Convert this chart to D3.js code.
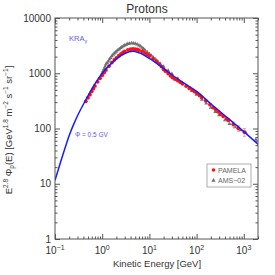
<!DOCTYPE html>
<html><head><meta charset="utf-8">
<script src="https://cdn.jsdelivr.net/npm/d3@7"></script>
<style>
body{margin:0;background:#fff;}
text{font-family:"Liberation Sans",Arial,Helvetica,sans-serif;}
</style></head>
<body><svg id="c" width="275" height="275"></svg>
<script>
// ---- data ----
const modelE   = [0.1,0.13,0.16,0.2,0.25,0.3,0.45,0.7,1,1.5,2,3,4.5,6,7,10,20,30,50,100,200,500,1000,2000];
const modelV   = [11.5,24,42,75,120,170,330,640,1000,1450,1820,2280,2500,2350,2230,1850,1220,940,690,470,280,145,88,52];
const pamelaE  = [0.45,0.5,0.55,0.6,0.65,0.7,0.8,0.9,1.0,1.1,1.2,1.4,1.6,1.8,2,2.25,2.5,2.75,3,3.5,4,4.5,5,5.5,6,7,8,9,10,12,14,16,18,20,22,25,28,31,35,40,45,50,60,70,80,90,100,115,128,156,192,226,254,288,324,368,434,470,599,764,1025];
const pamelaV  = [310,360,410,470,530,590,700,810,920,1030,1140,1350,1560,1740,1900,2080,2250,2380,2490,2640,2730,2750,2730,2690,2620,2480,2330,2190,2050,1830,1640,1480,1320,1180,1090,990,900,835,780,735,690,645,585,535,495,465,440,400,365,318,270,238,220,200,182,166,150,141,119,101,86];
const pamelaErr= [0,0,0,0,0,0,0,0,0,0,0,0,0,0,0,0,0,0,0,0,0,0,0,0,0,0,0,0,0,0,0,0,0,0,0,0,0,0,0,0,0,0,0,0,0,0,0,0,0,0,0,0,0,0,0,0,10,10,12,12,14];
const amsE     = [1.0,1.05,1.1,1.15,1.2,1.27,1.35,1.42,1.5,1.6,1.7,1.8,1.9,2,2.15,2.3,2.45,2.6,2.8,3,3.25,3.5,3.8,4.2,4.6,5,5.5,6,6.5,7,7.5,8,9,10,11,12,13.5,15,17,20,25,30,40,50,60,80,100,130,160,200,250,300,400,500,650,850,1100,1800];
const amsV     = [1000,1100,1200,1320,1450,1550,1650,1780,1900,2040,2180,2300,2400,2480,2620,2750,2870,2980,3100,3200,3310,3400,3460,3500,3490,3450,3340,3200,3060,2900,2760,2620,2420,2250,2090,1950,1780,1640,1480,1320,1120,980,800,670,590,480,410,335,285,240,200,175,142,122,106,94,84,63];
const xMajor   = [0.1,1,10,100,1000];
const xExp     = ["−1","0","1","2","3"];
const yMajor   = [1,10,100,1000,10000];
const yLabels  = ["1","10","100","1000","10000"];

// ---- layout ----
const svg = d3.select("#c");
const L=55,R=258,T=18,B=239;
const x = d3.scaleLog().domain([0.1,2000]).range([L,R]);
const y = d3.scaleLog().domain([1,10000]).range([B,T]);
const axisCol="#555";

function minors(lo,hi){const m=[];for(let d=lo;d<hi;d*=10){for(let k=2;k<=9;k++){const v=d*k;if(v<=hi*1.0001)m.push(v);}}return m;}
const xMin = minors(0.1,2000).filter(v=>v<=2000);
const yMin = minors(1,10000);

const gAx = svg.append("g");
function addAxis(axis, tr){
  const g=gAx.append("g").attr("transform",tr).call(axis);
  g.select(".domain").remove();
  g.selectAll("line").attr("stroke",axisCol).attr("stroke-width",1);
  g.selectAll("text").remove();
}
addAxis(d3.axisBottom(x).tickValues(xMajor).tickSize(-5).tickFormat(""),`translate(0,${B})`);
addAxis(d3.axisBottom(x).tickValues(xMin).tickSize(-2.5).tickFormat(""),`translate(0,${B})`);
addAxis(d3.axisTop(x).tickValues(xMajor).tickSize(-5).tickFormat(""),`translate(0,${T})`);
addAxis(d3.axisTop(x).tickValues(xMin).tickSize(-2.5).tickFormat(""),`translate(0,${T})`);
addAxis(d3.axisLeft(y).tickValues(yMajor).tickSize(-5).tickFormat(""),`translate(${L},0)`);
addAxis(d3.axisLeft(y).tickValues(yMin).tickSize(-2.5).tickFormat(""),`translate(${L},0)`);
addAxis(d3.axisRight(y).tickValues(yMajor).tickSize(-5).tickFormat(""),`translate(${R},0)`);
addAxis(d3.axisRight(y).tickValues(yMin).tickSize(-2.5).tickFormat(""),`translate(${R},0)`);

// clip
svg.append("clipPath").attr("id","clip").append("rect").attr("x",L).attr("y",T).attr("width",R-L).attr("height",B-T);
const plot = svg.append("g").attr("clip-path","url(#clip)");

// AMS-02 triangles
const tri = d3.symbol().type(d3.symbolTriangle).size(7);
plot.selectAll(".ams").data(amsE.map((e,i)=>[e,amsV[i]])).join("path")
  .attr("d",tri).attr("transform",d=>`translate(${x(d[0])},${y(d[1])})`).attr("fill","#707070");

// PAMELA error bars
const pam = pamelaE.map((e,i)=>({e,v:pamelaV[i],err:pamelaErr[i]}));
const withErr = pam.filter(d=>d.err>0);
plot.selectAll(".eb").data(withErr).join("line")
  .attr("x1",d=>x(d.e)).attr("x2",d=>x(d.e))
  .attr("y1",d=>y(d.v+d.err)).attr("y2",d=>y(Math.max(1,d.v-d.err)))
  .attr("stroke","#f5a0a0").attr("stroke-width",1);
plot.selectAll(".ebc").data(withErr).join("line")
  .attr("x1",d=>x(d.e)-1.5).attr("x2",d=>x(d.e)+1.5)
  .attr("y1",d=>y(d.v+d.err)).attr("y2",d=>y(d.v+d.err))
  .attr("stroke","#f5a0a0").attr("stroke-width",1);
plot.selectAll(".ebc2").data(withErr).join("line")
  .attr("x1",d=>x(d.e)-1.5).attr("x2",d=>x(d.e)+1.5)
  .attr("y1",d=>y(d.v-d.err)).attr("y2",d=>y(d.v-d.err))
  .attr("stroke","#f5a0a0").attr("stroke-width",1);
// PAMELA dots
plot.selectAll(".pam").data(pam).join("circle")
  .attr("cx",d=>x(d.e)).attr("cy",d=>y(d.v)).attr("r",1.9).attr("fill","#ff1010");

// model line
const line = d3.line().x(d=>x(d[0])).y(d=>y(d[1])).curve(d3.curveMonotoneX);
plot.append("path").datum(modelE.map((e,i)=>[e,modelV[i]]))
  .attr("d",line).attr("fill","none").attr("stroke","#1a1aff").attr("stroke-width",1.5);

// frame
svg.append("rect").attr("x",L).attr("y",T).attr("width",R-L).attr("height",B-T)
  .attr("fill","none").attr("stroke",axisCol).attr("stroke-width",1);

// y tick labels
svg.selectAll(".yl").data(yMajor).join("text")
  .attr("x",L-4).attr("y",d=>y(d)+3.5).attr("text-anchor","end")
  .attr("font-size",10).attr("fill","#333").text((d,i)=>yLabels[i]);

// x tick labels
xMajor.forEach((v,i)=>{
  const t=svg.append("text").attr("x",x(v)).attr("y",254).attr("text-anchor","middle")
    .attr("font-size",10).attr("fill","#333");
  t.append("tspan").text("10");
  t.append("tspan").attr("dy",-4).attr("font-size",7).text(xExp[i]);
});

// title
svg.append("text").attr("x",147).attr("y",13).attr("text-anchor","middle")
  .attr("font-size",12).attr("fill","#333").text("Protons");
// x label
svg.append("text").attr("x",157).attr("y",267).attr("text-anchor","middle")
  .attr("font-size",9.5).attr("fill","#333").text("Kinetic Energy [GeV]");
// y label
const yl=svg.append("text").attr("transform","translate(12,130) rotate(-90)")
  .attr("text-anchor","middle").attr("font-size",9.5).attr("fill","#333");
yl.append("tspan").text("E");
yl.append("tspan").attr("dy",-4).attr("font-size",6.5).text("2.8");
yl.append("tspan").attr("dy",4).text("  Φ");
yl.append("tspan").attr("dy",2).attr("font-size",6.5).text("p");
yl.append("tspan").attr("dy",-2).text("(E)  [GeV");
yl.append("tspan").attr("dy",-4).attr("font-size",6.5).text("1.8");
yl.append("tspan").attr("dy",4).text("  m");
yl.append("tspan").attr("dy",-4).attr("font-size",6.5).text("−2");
yl.append("tspan").attr("dy",4).text("  s");
yl.append("tspan").attr("dy",-4).attr("font-size",6.5).text("−1");
yl.append("tspan").attr("dy",4).text("  sr");
yl.append("tspan").attr("dy",-4).attr("font-size",6.5).text("−1");
yl.append("tspan").attr("dy",4).text("]");

// annotations
const kra=svg.append("text").attr("x",69).attr("y",41).attr("font-size",7.5).attr("fill","#5a5aff");
kra.append("tspan").text("KRA");
kra.append("tspan").attr("dy",2).attr("font-size",5.5).text("γ");
svg.append("text").attr("x",75).attr("y",137).attr("font-size",6.5).attr("fill","#5a5aff").text("Φ = 0.5 GV");

// legend
const lg=svg.append("g");
lg.append("rect").attr("x",207).attr("y",164).attr("width",44).attr("height",23)
  .attr("fill","#fff").attr("stroke","#999").attr("stroke-width",0.8);
lg.append("circle").attr("cx",213.5).attr("cy",170).attr("r",1.8).attr("fill","#ff1010");
lg.append("path").attr("d",d3.symbol().type(d3.symbolTriangle).size(8)).attr("transform","translate(213.5,180.5)").attr("fill","#707070");
lg.append("text").attr("x",218).attr("y",172.5).attr("font-size",7).attr("fill","#666").text("PAMELA");
lg.append("text").attr("x",218).attr("y",183).attr("font-size",7).attr("fill","#666").text("AMS−02");
</script></body></html>
